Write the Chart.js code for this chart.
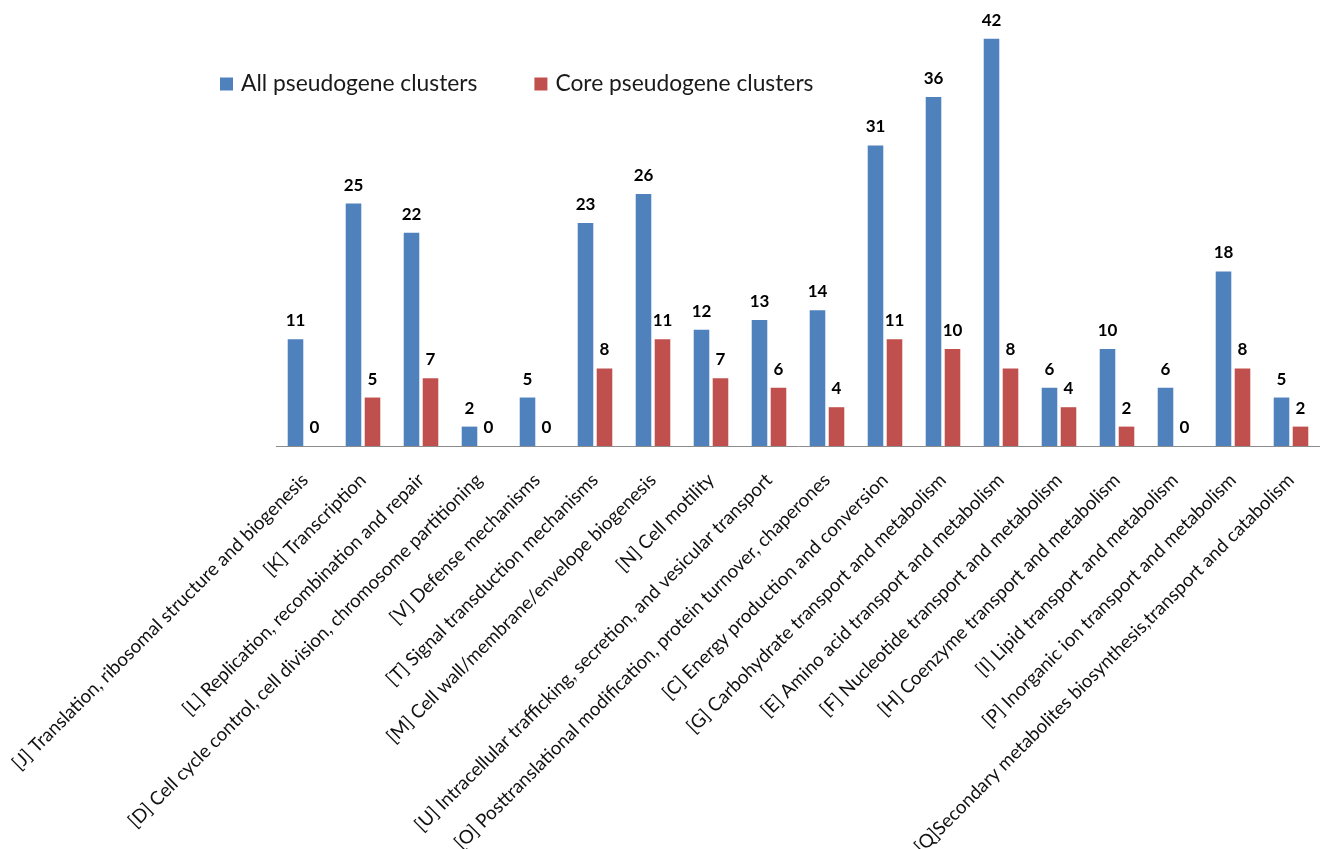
<!DOCTYPE html>
<html>
<head>
<meta charset="utf-8">
<title>COG functional categories of pseudogene clusters</title>
<script src="https://cdn.jsdelivr.net/npm/chart.js@4.4.1/dist/chart.umd.min.js"></script>
<style>
  html, body { margin: 0; padding: 0; background: #ffffff; }
  #wrap { width: 1320px; height: 849px; position: relative; }
</style>
</head>
<body>
<div id="wrap"><canvas id="chart"></canvas></div>
<script>
// COG functional categories (x axis)
const categories = [
  '[J] Translation, ribosomal structure and biogenesis',
  '[K] Transcription',
  '[L] Replication, recombination and repair',
  '[D] Cell cycle control, cell division, chromosome partitioning',
  '[V] Defense mechanisms',
  '[T] Signal transduction mechanisms',
  '[M] Cell wall/membrane/envelope biogenesis',
  '[N] Cell motility',
  '[U] Intracellular trafficking, secretion, and vesicular transport',
  '[O] Posttranslational modification, protein turnover, chaperones',
  '[C] Energy production and conversion',
  '[G] Carbohydrate transport and metabolism',
  '[E] Amino acid transport and metabolism',
  '[F] Nucleotide transport and metabolism',
  '[H] Coenzyme transport and metabolism',
  '[I] Lipid transport and metabolism',
  '[P] Inorganic ion transport and metabolism',
  '[Q]Secondary metabolites biosynthesis,transport and catabolism'
];

// Number of clusters per category
const allClusters  = [11, 25, 22, 2, 5, 23, 26, 12, 13, 14, 31, 36, 42, 6, 10, 6, 18, 5];
const coreClusters = [0, 5, 7, 0, 0, 8, 11, 7, 6, 4, 11, 10, 8, 4, 2, 0, 8, 2];

const seriesNames  = ['All pseudogene clusters', 'Core pseudogene clusters'];
const seriesColors = ['#4F81BD', '#C0504D'];

const TEXT_FONT = 'Lato, "Open Sans", "Noto Sans", sans-serif';

// Numbers printed above each bar
const valueLabels = {
  id: 'valueLabels',
  afterDatasetsDraw(chart) {
    const ctx = chart.ctx;
    ctx.save();
    ctx.font = 'bold 17px ' + TEXT_FONT;
    ctx.fillStyle = '#000000';
    ctx.textAlign = 'center';
    ctx.textBaseline = 'alphabetic';
    chart.data.datasets.forEach((ds, i) => {
      const meta = chart.getDatasetMeta(i);
      meta.data.forEach((bar, j) => {
        ctx.fillText(String(ds.data[j]), bar.x, bar.y - 13);
      });
    });
    ctx.restore();
  }
};

// Horizontal legend row with square swatches
const swatchLegend = {
  id: 'swatchLegend',
  afterDraw(chart, args, opts) {
    const ctx = chart.ctx;
    ctx.save();
    ctx.font = opts.fontSize + 'px ' + TEXT_FONT;
    ctx.textBaseline = 'middle';
    ctx.textAlign = 'left';
    let x = opts.x;
    chart.data.datasets.forEach((ds) => {
      ctx.fillStyle = ds.backgroundColor;
      ctx.fillRect(x, opts.y - opts.box / 2, opts.box, opts.box);
      x += opts.box + opts.boxGap;
      ctx.fillStyle = '#1a1a1a';
      ctx.fillText(ds.label, x, opts.y);
      x += ctx.measureText(ds.label).width + opts.itemGap;
    });
    ctx.restore();
  }
};

new Chart(document.getElementById('chart'), {
  type: 'bar',
  data: {
    labels: categories,
    datasets: [
      { label: seriesNames[0], data: allClusters,  backgroundColor: seriesColors[0] },
      { label: seriesNames[1], data: coreClusters, backgroundColor: seriesColors[1] }
    ]
  },
  options: {
    responsive: true,
    maintainAspectRatio: false,
    animation: false,
    layout: { padding: 0 },
    datasets: { bar: { categoryPercentage: 0.655, barPercentage: 0.82 } },
    plugins: {
      legend: { display: false },
      tooltip: { enabled: false },
      swatchLegend: { x: 220, y: 84, box: 13, boxGap: 8, itemGap: 57, fontSize: 22.8 }
    },
    scales: {
      x: {
        offset: true,
        grid: { display: false },
        border: { display: true, color: '#8c8c8c', width: 1 },
        ticks: {
          autoSkip: false,
          minRotation: 45,
          maxRotation: 45,
          padding: 15,
          color: '#111111',
          font: { family: TEXT_FONT, size: 18.8 }
        },
        // plot area runs from x=276 to the right edge, axis line at y=446
        afterFit(scale) {
          scale.height = 403;
          scale.paddingLeft = 276;
          scale.paddingRight = 0;
        }
      },
      y: {
        display: false,
        min: 0,
        max: 46
      }
    }
  },
  plugins: [valueLabels, swatchLegend]
});
</script>
</body>
</html>
